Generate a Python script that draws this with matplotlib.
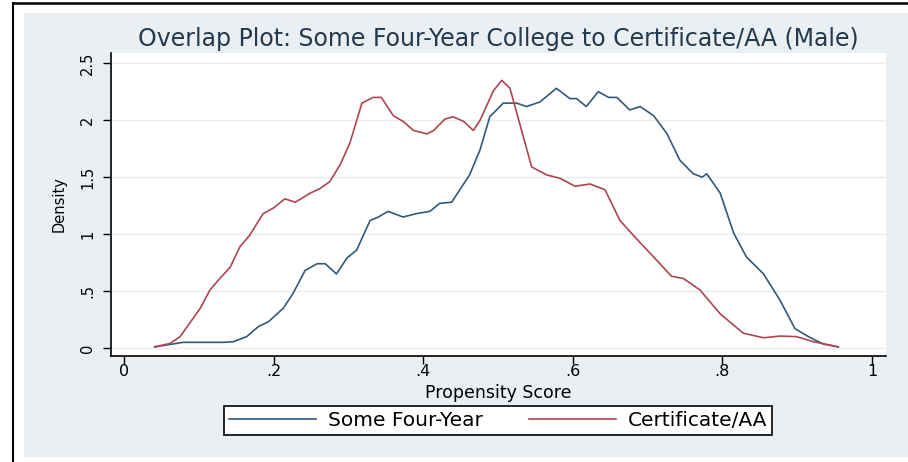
import matplotlib
matplotlib.use("Agg")
import matplotlib.pyplot as plt
from matplotlib.patches import Rectangle
from matplotlib.lines import Line2D

plt.rcParams['font.family'] = ['DejaVu Sans']

# density curves
four_x = [0.041, 0.079, 0.102, 0.133, 0.146, 0.164, 0.180, 0.193, 0.213, 0.226,
          0.242, 0.258, 0.269, 0.284, 0.298, 0.311, 0.329, 0.340, 0.353, 0.373,
          0.391, 0.409, 0.422, 0.438, 0.456, 0.462, 0.476, 0.489, 0.507, 0.525,
          0.538, 0.556, 0.578, 0.596, 0.605, 0.618, 0.634, 0.648, 0.659, 0.676,
          0.690, 0.708, 0.726, 0.743, 0.761, 0.773, 0.779, 0.797, 0.815, 0.832,
          0.855, 0.877, 0.897, 0.915, 0.935, 0.955]
four_y = [0.01, 0.05, 0.05, 0.05, 0.055, 0.10, 0.19, 0.23, 0.35, 0.48,
          0.68, 0.74, 0.74, 0.65, 0.79, 0.86, 1.12, 1.15, 1.20, 1.15,
          1.18, 1.20, 1.27, 1.28, 1.46, 1.52, 1.74, 2.03, 2.15, 2.15,
          2.12, 2.16, 2.28, 2.19, 2.19, 2.12, 2.25, 2.20, 2.20, 2.09,
          2.12, 2.04, 1.88, 1.65, 1.53, 1.50, 1.53, 1.36, 1.01, 0.80,
          0.65, 0.42, 0.17, 0.10, 0.035, 0.01]

cert_x = [0.041, 0.0615, 0.075, 0.088, 0.102, 0.115, 0.128, 0.142, 0.155, 0.168,
          0.186, 0.200, 0.215, 0.229, 0.249, 0.262, 0.275, 0.289, 0.302, 0.318,
          0.333, 0.344, 0.360, 0.373, 0.387, 0.405, 0.414, 0.429, 0.440, 0.454,
          0.467, 0.476, 0.494, 0.505, 0.516, 0.529, 0.545, 0.565, 0.583, 0.603,
          0.623, 0.643, 0.663, 0.685, 0.708, 0.732, 0.748, 0.770, 0.797, 0.828,
          0.855, 0.877, 0.899, 0.922, 0.955]
cert_y = [0.01, 0.04, 0.10, 0.22, 0.35, 0.51, 0.61, 0.71, 0.89, 0.99,
          1.18, 1.23, 1.31, 1.28, 1.36, 1.40, 1.46, 1.61, 1.80, 2.15,
          2.20, 2.20, 2.04, 1.99, 1.91, 1.88, 1.91, 2.01, 2.03, 1.99,
          1.91, 2.00, 2.26, 2.35, 2.28, 1.97, 1.59, 1.52, 1.49, 1.42,
          1.44, 1.39, 1.12, 0.96, 0.80, 0.63, 0.61, 0.51, 0.30, 0.13,
          0.09, 0.105, 0.10, 0.055, 0.01]

x_ticks = [0, 0.2, 0.4, 0.6, 0.8, 1.0]
x_labels = ['0', '.2', '.4', '.6', '.8', '1']
y_ticks = [0, 0.5, 1, 1.5, 2, 2.5]
y_labels = ['0', '.5', '1', '1.5', '2', '2.5']

blue = '#32597a'
red = '#ac4650'
bg = '#e9eff2'

W, H = 908, 462
fig = plt.figure(figsize=(W / 100, H / 100), dpi=100)
fig.patch.set_facecolor('white')

# light graph region and outer frame
fig.patches.append(Rectangle((24 / W, 1 - 457 / H), 1 - 24 / W, (457 - 13) / H,
                             transform=fig.transFigure, facecolor=bg,
                             edgecolor='none', zorder=-10))
fig.lines.append(Line2D([13 / W, 13 / W], [0, 1 - 3 / H], transform=fig.transFigure,
                        color='black', lw=1.5, zorder=-5))
fig.lines.append(Line2D([13 / W, 1], [1 - 3 / H, 1 - 3 / H], transform=fig.transFigure,
                        color='black', lw=1.8, zorder=-5))

ax = fig.add_axes([111 / W, 1 - 356 / H, (886 - 111) / W, (356 - 53) / H])
ax.set_zorder(1)
ax.set_facecolor('white')

ax.plot(four_x, four_y, color=blue, lw=1.2, label='Some Four-Year')
ax.plot(cert_x, cert_y, color=red, lw=1.2, label='Certificate/AA')

ax.set_xlim(-0.0174, 1.0187)
ax.set_ylim(-0.07, 2.59)
ax.set_xticks(x_ticks)
ax.set_xticklabels(x_labels)
ax.set_yticks(y_ticks)
ax.set_yticklabels(y_labels, rotation=90, va='center')
ax.tick_params(direction='out', length=5.5, width=1, colors='black')
ax.tick_params(axis='x', labelsize=11.5, pad=0.5)
ax.tick_params(axis='y', labelsize=10.5, pad=6)
ax.grid(axis='y', color='#e8eef0', lw=1)
ax.set_axisbelow(True)
for s in ['top', 'right']:
    ax.spines[s].set_visible(False)
for s in ['left', 'bottom']:
    ax.spines[s].set_linewidth(1.2)

ax.set_xlabel('Propensity Score', fontsize=12.5)
ax.xaxis.set_label_coords(0.5, (356 - 393) / 303)
ax.xaxis.label.set_va('center')
ax.set_ylabel('Density', fontsize=10.5)
ax.yaxis.set_label_coords((59 - 111) / 775, 0.5)
ax.yaxis.label.set_va('center')
ax.set_title('Overlap Plot: Some Four-Year College to Certificate/AA (Male)',
             fontsize=17, color='#24394d', pad=5)

leg = fig.legend(loc='center', bbox_to_anchor=(498 / W, 1 - 420.5 / H), ncol=2,
                 fontsize=14.5, handlelength=4.3, columnspacing=2.3, frameon=True,
                 fancybox=False, borderpad=0.25, handletextpad=0.6,
                 framealpha=1, facecolor='white')
leg.set_zorder(5)
leg.get_frame().set_edgecolor('black')
leg.get_frame().set_linewidth(1.2)

fig.savefig('out.png', dpi=100)
